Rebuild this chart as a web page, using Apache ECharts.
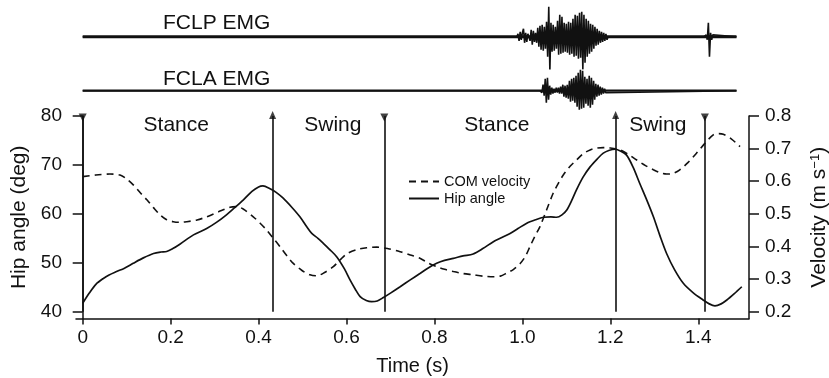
<!DOCTYPE html>
<html><head><meta charset="utf-8">
<script src="https://cdn.jsdelivr.net/npm/echarts@6/dist/echarts.min.js"></script>
<style>html,body{margin:0;padding:0;background:#fff}#c{width:829px;height:378px}</style>
</head><body><div id="c"></div>
<script>
// ---- tick definitions ----
const timeTicks = [0, 0.2, 0.4, 0.6, 0.8, 1.0, 1.2, 1.4];
const timeTickLabels = ['0', '0.2', '0.4', '0.6', '0.8', '1.0', '1.2', '1.4'];
const hipTicks = [40, 50, 60, 70, 80];
const hipTickLabels = ['40', '50', '60', '70', '80'];
const velTicks = [0.2, 0.3, 0.4, 0.5, 0.6, 0.7, 0.8];
const velTickLabels = ['0.2', '0.3', '0.4', '0.5', '0.6', '0.7', '0.8'];

// ---- hip angle (deg) ----
const hipTime = [0.000,0.015,0.030,0.047,0.060,0.077,0.095,0.115,0.138,0.161,0.178,0.191,0.205,0.221,0.252,0.282,0.305,0.327,0.345,0.365,0.385,0.400,0.410,0.425,0.440,0.456,0.475,0.494,0.510,0.521,0.535,0.547,0.562,0.578,0.595,0.608,0.620,0.631,0.645,0.657,0.670,0.684,0.700,0.722,0.745,0.767,0.785,0.805,0.823,0.843,0.865,0.888,0.910,0.934,0.952,0.972,0.990,1.010,1.030,1.048,1.065,1.078,1.090,1.101,1.112,1.123,1.138,1.154,1.170,1.184,1.198,1.211,1.224,1.237,1.252,1.267,1.283,1.298,1.313,1.328,1.346,1.366,1.388,1.411,1.425,1.438,1.452,1.465,1.482,1.499];
const hipAngle = [41.7,43.8,45.6,46.8,47.5,48.2,48.9,49.9,51.0,51.9,52.2,52.3,52.9,53.8,55.7,57.0,58.3,59.8,61.2,62.8,64.6,65.5,65.7,65.2,64.4,63.2,61.4,59.4,57.3,56.0,55.0,54.0,52.7,51.2,48.8,46.5,44.6,43.1,42.3,42.05,42.2,42.9,43.8,45.1,46.5,47.8,48.9,49.9,50.5,50.9,51.4,51.8,52.9,54.3,55.1,56.0,57.0,58.1,58.8,59.3,59.4,59.3,59.8,60.8,62.7,64.9,67.5,69.6,71.2,72.4,73.0,73.2,72.8,72.0,69.5,66.2,62.8,59.4,55.5,51.9,48.6,45.8,43.9,42.4,41.6,41.2,41.6,42.4,43.7,45.1];

// ---- COM velocity (m/s) ----
const comTime = [0.000,0.030,0.062,0.085,0.100,0.115,0.130,0.146,0.161,0.176,0.191,0.206,0.222,0.237,0.260,0.282,0.310,0.335,0.350,0.365,0.388,0.403,0.418,0.433,0.449,0.464,0.479,0.498,0.517,0.532,0.550,0.570,0.585,0.600,0.623,0.646,0.669,0.695,0.722,0.745,0.767,0.785,0.805,0.823,0.843,0.865,0.888,0.910,0.934,0.950,0.964,0.980,0.995,1.007,1.017,1.028,1.040,1.055,1.070,1.082,1.093,1.108,1.123,1.138,1.154,1.170,1.184,1.200,1.222,1.240,1.260,1.280,1.298,1.313,1.328,1.343,1.358,1.377,1.396,1.415,1.434,1.446,1.457,1.475,1.495];
const comVelocity = [0.614,0.619,0.622,0.619,0.607,0.589,0.566,0.543,0.519,0.497,0.482,0.476,0.474,0.476,0.481,0.491,0.507,0.520,0.522,0.515,0.491,0.472,0.451,0.426,0.399,0.372,0.348,0.327,0.313,0.310,0.320,0.338,0.358,0.377,0.390,0.396,0.398,0.393,0.384,0.374,0.364,0.350,0.338,0.330,0.323,0.317,0.313,0.309,0.307,0.309,0.318,0.330,0.348,0.370,0.399,0.430,0.461,0.512,0.563,0.594,0.619,0.645,0.665,0.684,0.696,0.702,0.703,0.702,0.696,0.683,0.665,0.648,0.635,0.626,0.622,0.624,0.635,0.658,0.686,0.716,0.742,0.746,0.744,0.730,0.706];

// ---- gait events and phases ----
const eventTimes = [0, 0.432, 0.686, 1.212, 1.415];
const eventKinds = ['down', 'up', 'down', 'up', 'down'];
const phaseNames = ['Stance', 'Swing', 'Stance', 'Swing'];
const phaseCenters = [0.214, 0.570, 0.943, 1.309];

// ---- EMG traces (arbitrary amplitude units) ----
const emgEnd = 1.487;
const emgStep = 0.0025;
const fclpBurstStart = 0.990;
const fclpBurst = [3,-4,5,-3,4, 8,-6,4,-5,3, 5,-4,7,-8,6, -5,4,-6,9,-10, 11,-13,12,-14,10, -12,15,-20,30,-34, 14,-15,12,-14,10, -12,16,-18,22,-17, 20,-16,14,-15,13, -16,15,-18,14,-17, 18,-20,22,-19,21, -22,24,-21,25,-33, 22,-26,18,-20,16, -17,13,-15,12,-12, 10,-9,8,-8,6, -6,5,-5,4,-4, 3,-3];
const fclpSpikeStart = 1.418;
const fclpSpike = [2,-3,14,-20,4,-3,2];
const fclaBurstStart = 1.042;
const fclaBurst = [2,-2,6,-5,12, -12,13,-9,5,-4, 3,-3,2,-2,3, -2,3,-3,4,-3, 6,-6,5,-7,6, -8,10,-11,12,-10, 13,-12,15,-16,18, -19,21,-18,20,-17, 14,-13,12,-15,15, -17,13,-14,10,-9, 7,-6,6,-5,4, -4,3,-3,2,-2];

const FONT = 'Liberation Sans, Arial, sans-serif';
const INK = '#111';

function zip(a, b) { return a.map((v, i) => [v, b[i]]); }
function emgSeg(start, amps) {
  const pts = [[start - emgStep, 0]];
  amps.forEach((a, i) => pts.push([start + i * emgStep, a]));
  pts.push([start + amps.length * emgStep, 0]);
  return pts;
}
function tickLabel(ticks, labels) {
  return v => { const i = ticks.findIndex(t => Math.abs(t - v) < 1e-6); return i >= 0 ? labels[i] : ''; };
}

const X_MIN = -0.0152, X_MAX = 1.5154;
const gridL = 76, gridR = 80;

const emgX = idx => ({ gridIndex: idx, type: 'value', min: X_MIN, max: X_MAX, show: false });
const emgY = idx => ({ gridIndex: idx, type: 'value', min: -32, max: 32, show: false });

const fclpData = [[0, 0]].concat(emgSeg(fclpBurstStart, fclpBurst), [[fclpSpikeStart - 2 * emgStep, 0]], emgSeg(fclpSpikeStart, fclpSpike), [[emgEnd, 0]]);
const fclaData = [[0, 0]].concat(emgSeg(fclaBurstStart, fclaBurst), [[emgEnd, 0]]);

const chart = echarts.init(document.getElementById('c'), null, { renderer: 'canvas' });
chart.setOption({
  animation: false,
  backgroundColor: '#fff',
  textStyle: { fontFamily: FONT, color: INK },
  title: [
    { text: 'FCLP EMG', left: 163, top: 13, padding: 0, textStyle: { fontFamily: FONT, fontSize: 21, fontWeight: 'normal', color: INK } },
    { text: 'FCLA EMG', left: 163, top: 68.5, padding: 0, textStyle: { fontFamily: FONT, fontSize: 21, fontWeight: 'normal', color: INK } }
  ],
  legend: {
    data: ['COM velocity', 'Hip angle'],
    orient: 'vertical', left: 408, top: 174, padding: 0,
    itemWidth: 30, itemHeight: 14, itemGap: 2,
    selectedMode: false,
    itemStyle: { opacity: 0, color: 'rgba(0,0,0,0)', borderWidth: 0 },
    textStyle: { fontFamily: FONT, fontSize: 14.5, color: INK }
  },
  grid: [
    { left: gridL, right: gridR, top: 116, height: 202.5, outerBoundsMode: 'none', containLabel: false },
    { left: gridL, right: gridR, top: 4.8, height: 64, outerBoundsMode: 'none', containLabel: false },
    { left: gridL, right: gridR, top: 58.7, height: 64, outerBoundsMode: 'none', containLabel: false }
  ],
  xAxis: [
    {
      gridIndex: 0, type: 'value', min: X_MIN, max: X_MAX,
      axisLine: { show: true, lineStyle: { color: INK, width: 1.5 } },
      axisTick: { show: true, customValues: timeTicks, length: 6, lineStyle: { color: INK, width: 1.5 } },
      axisLabel: { customValues: timeTicks, formatter: tickLabel(timeTicks, timeTickLabels), margin: 10, fontSize: 19, color: INK, fontFamily: FONT },
      splitLine: { show: false },
      name: 'Time (s)', nameLocation: 'middle', nameGap: 38,
      nameTextStyle: { fontSize: 20, color: INK, fontFamily: FONT }
    },
    emgX(1), emgX(2)
  ],
  yAxis: [
    {
      gridIndex: 0, type: 'value', position: 'left', min: 38.61, max: 80,
      axisLine: { show: true, lineStyle: { color: INK, width: 1.5 } },
      axisTick: { show: true, customValues: hipTicks, length: 10, lineStyle: { color: INK, width: 1.5 } },
      axisLabel: { customValues: hipTicks, formatter: tickLabel(hipTicks, hipTickLabels), margin: 14, fontSize: 19, color: INK, fontFamily: FONT },
      splitLine: { show: false },
      name: 'Hip angle (deg)', nameLocation: 'middle', nameGap: 37, nameRotate: 90,
      nameTextStyle: { fontSize: 21, color: INK, fontFamily: FONT }
    },
    {
      gridIndex: 0, type: 'value', position: 'right', min: 0.1791, max: 0.8,
      axisLine: { show: true, lineStyle: { color: INK, width: 1.5 } },
      axisTick: { show: true, customValues: velTicks, length: 10, lineStyle: { color: INK, width: 1.5 } },
      axisLabel: { customValues: velTicks, formatter: tickLabel(velTicks, velTickLabels), margin: 16, fontSize: 19, color: INK, fontFamily: FONT },
      splitLine: { show: false },
      name: 'Velocity (m s{sup|\u22121})', nameLocation: 'middle', nameGap: 60, nameRotate: 90,
      nameTextStyle: { fontSize: 21, color: INK, fontFamily: FONT, rich: { sup: { fontSize: 13, verticalAlign: 'top', lineHeight: 13, fontFamily: FONT, color: INK } } }
    },
    emgY(1), emgY(2)
  ],
  series: [
    {
      name: 'Hip angle', type: 'line', xAxisIndex: 0, yAxisIndex: 0,
      data: zip(hipTime, hipAngle), smooth: 0.3, symbol: 'none',
      lineStyle: { color: INK, width: 1.7, type: 'solid' }, itemStyle: { color: INK },
      markLine: {
        silent: true, symbol: ['none', 'none'], label: { show: false },
        lineStyle: { color: INK, width: 1.6, type: 'solid' },
        data: eventTimes.map(t => [{ coord: [t, 40] }, { coord: [t, 80] }])
      },
      z: 3
    },
    {
      name: 'COM velocity', type: 'line', xAxisIndex: 0, yAxisIndex: 1,
      data: zip(comTime, comVelocity), smooth: 0.3, symbol: 'none',
      lineStyle: { color: INK, width: 1.6, type: [7, 5] }, itemStyle: { color: INK },
      z: 3
    },
    {
      type: 'scatter', xAxisIndex: 0, yAxisIndex: 0, silent: true,
      symbol: 'triangle', symbolSize: [8, 8], symbolRotate: 180, symbolOffset: [0, 1.5],
      itemStyle: { color: INK },
      data: eventTimes.filter((t, i) => eventKinds[i] === 'down').map(t => [t, 80])
    },
    {
      type: 'scatter', xAxisIndex: 0, yAxisIndex: 0, silent: true,
      symbol: 'triangle', symbolSize: [7, 8], symbolOffset: [0, -1],
      itemStyle: { color: INK },
      data: eventTimes.filter((t, i) => eventKinds[i] === 'up').map(t => [t, 80])
    },
    {
      type: 'scatter', xAxisIndex: 0, yAxisIndex: 0, silent: true,
      symbol: 'circle', symbolSize: 1, itemStyle: { color: '#fff', opacity: 0 },
      label: { show: true, position: [0, 0], align: 'center', verticalAlign: 'middle', formatter: '{b}', fontSize: 21, color: INK, opacity: 1, fontFamily: FONT },
      data: phaseCenters.map((t, i) => ({ value: [t, 78], name: phaseNames[i] }))
    },
    {
      type: 'line', xAxisIndex: 1, yAxisIndex: 2, silent: true, symbol: 'none',
      data: [[0, 0], [emgEnd, 0]], lineStyle: { color: INK, width: 3 }
    },
    {
      type: 'line', xAxisIndex: 1, yAxisIndex: 2, silent: true, symbol: 'none',
      data: fclpData, lineStyle: { color: INK, width: 1.6 }
    },
    {
      type: 'line', xAxisIndex: 2, yAxisIndex: 3, silent: true, symbol: 'none',
      data: [[0, 0], [emgEnd, 0]], lineStyle: { color: INK, width: 2.2 }
    },
    {
      type: 'line', xAxisIndex: 2, yAxisIndex: 3, silent: true, symbol: 'none',
      data: fclaData, lineStyle: { color: INK, width: 1.6 }
    }
  ]
});
</script>
</body></html>
